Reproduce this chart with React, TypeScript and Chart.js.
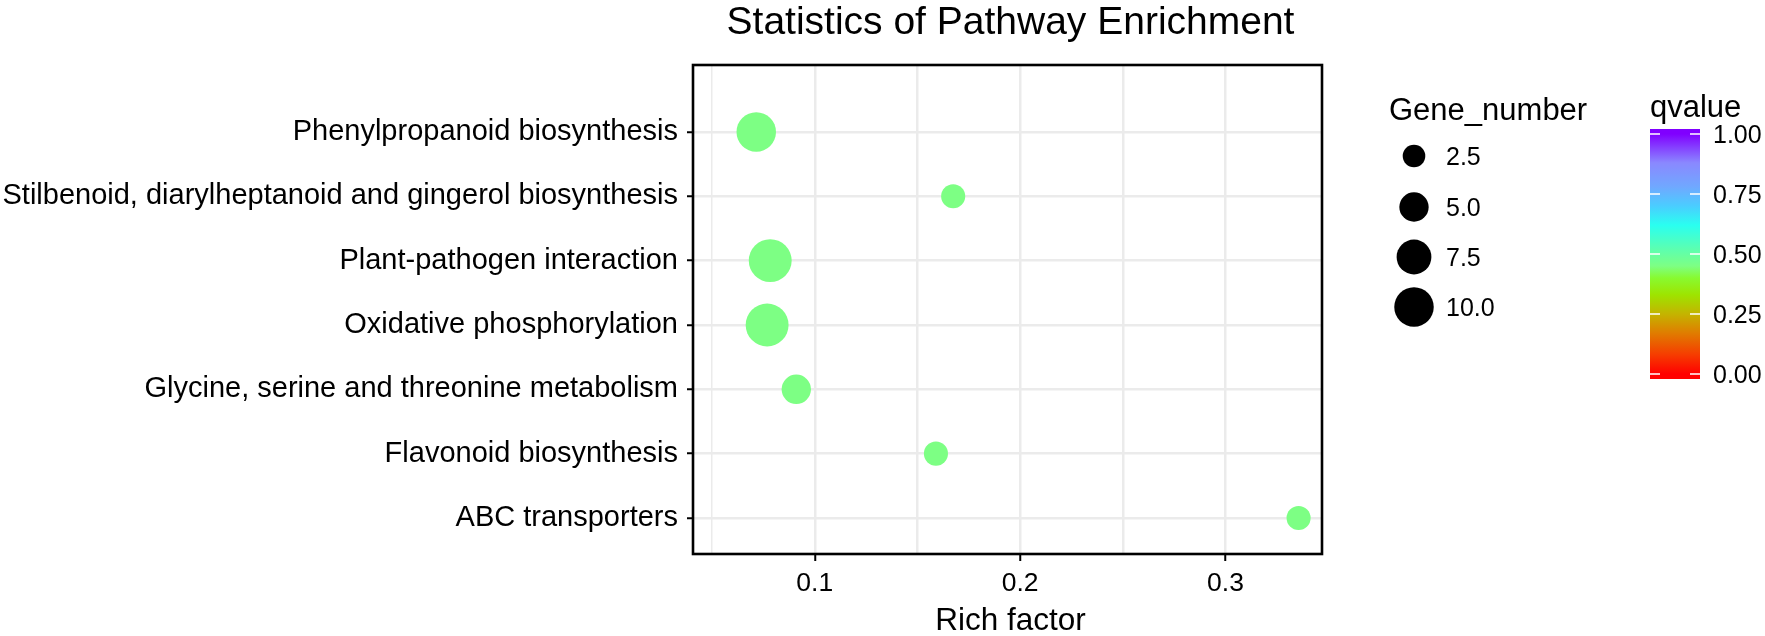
import React, { useEffect, useRef } from 'react';
import { Chart, registerables } from 'chart.js';

Chart.register(...registerables);

// ---------- data ----------
const pathways = [
  'Phenylpropanoid biosynthesis',
  'Stilbenoid, diarylheptanoid and gingerol biosynthesis',
  'Plant-pathogen interaction',
  'Oxidative phosphorylation',
  'Glycine, serine and threonine metabolism',
  'Flavonoid biosynthesis',
  'ABC transporters',
];
const richFactor = [0.0715, 0.1674, 0.0783, 0.0768, 0.091, 0.159, 0.3356];
const geneNumber = [10, 3, 12, 12, 5, 3, 3];
const qvalue = [0.45, 0.45, 0.45, 0.45, 0.45, 0.45, 0.45];

const xGridValues = [0.05, 0.1, 0.15, 0.2, 0.25, 0.3];
const xMajorTicks = [0.1, 0.2, 0.3];
const sizeLegendValues = [2.5, 5.0, 7.5, 10.0];
const colorbarTicks = [1.0, 0.75, 0.5, 0.25, 0.0];

const chartTitle = 'Statistics of Pathway Enrichment';
const xTitle = 'Rich factor';
const sizeLegendTitle = 'Gene_number';
const colorLegendTitle = 'qvalue';

// ---------- styles ----------
const FONT = '"Liberation Sans", Arial, Helvetica, sans-serif';
const GRID = '#EBEBEB';

const colorStops: [number, string][] = [
  [0.0, '#FF0000'],
  [0.08, '#F63C00'],
  [0.17, '#E07C00'],
  [0.25, '#C4B400'],
  [0.33, '#9EE400'],
  [0.4, '#88FA30'],
  [0.45, '#7DFF84'],
  [0.52, '#5CFFB0'],
  [0.62, '#2AFFF0'],
  [0.7, '#4ACDFF'],
  [0.78, '#70A8FF'],
  [0.88, '#8A88FF'],
  [1.0, '#8000FF'],
];

function hexToRgb(h: string) {
  const n = parseInt(h.slice(1), 16);
  return [(n >> 16) & 255, (n >> 8) & 255, n & 255];
}
function qColor(q: number) {
  for (let i = 0; i < colorStops.length - 1; i++) {
    const [a, ca] = colorStops[i];
    const [b, cb] = colorStops[i + 1];
    if (q >= a && q <= b) {
      const t = (q - a) / (b - a);
      const A = hexToRgb(ca);
      const B = hexToRgb(cb);
      const c = A.map((v, k) => Math.round(v + (B[k] - v) * t));
      return `rgb(${c[0]},${c[1]},${c[2]})`;
    }
  }
  return colorStops[colorStops.length - 1][1];
}
function sizeRadius(v: number) {
  return Math.sqrt(40 + 35 * v);
}

const isMajor = (v: number) => xMajorTicks.some((m) => Math.abs(m - v) < 1e-9);

const overlayPlugin = {
  id: 'overlay',
  afterDraw(chart: any) {
    const ctx = chart.ctx as CanvasRenderingContext2D;
    const area = chart.chartArea;
    ctx.save();
    // panel border
    ctx.strokeStyle = '#000';
    ctx.lineWidth = 2.6;
    ctx.strokeRect(area.left, area.top, area.right - area.left, area.bottom - area.top);

    ctx.fillStyle = '#000';
    // title
    ctx.font = `39px ${FONT}`;
    ctx.textAlign = 'center';
    ctx.textBaseline = 'alphabetic';
    ctx.fillText(chartTitle, (area.left + area.right) / 2 + 3, 34);

    // x title
    ctx.font = `31.5px ${FONT}`;
    ctx.fillText(xTitle, (area.left + area.right) / 2 + 3, 630);

    // size legend
    ctx.textAlign = 'left';
    ctx.font = `31px ${FONT}`;
    ctx.fillText(sizeLegendTitle, 1389, 120);
    const ys = [156, 207, 257, 307];
    sizeLegendValues.forEach((v, i) => {
      ctx.beginPath();
      ctx.arc(1414, ys[i], sizeRadius(v), 0, Math.PI * 2);
      ctx.fillStyle = '#000';
      ctx.fill();
      ctx.font = `25px ${FONT}`;
      ctx.textBaseline = 'middle';
      ctx.fillText(v.toFixed(1), 1446, ys[i] + 2);
      ctx.textBaseline = 'alphabetic';
    });

    // colour bar
    ctx.font = `31px ${FONT}`;
    ctx.fillText(colorLegendTitle, 1650, 117);
    const barL = 1650, barR = 1700, barT = 129, barB = 379;
    const q1y = 134, q0y = 374;
    const grad = ctx.createLinearGradient(0, q0y, 0, q1y);
    colorStops.forEach(([s, c]) => grad.addColorStop(s, c));
    ctx.fillStyle = '#FF0000';
    ctx.fillRect(barL, q0y, barR - barL, barB - q0y);
    ctx.fillStyle = '#8000FF';
    ctx.fillRect(barL, barT, barR - barL, q1y - barT);
    ctx.fillStyle = grad;
    ctx.fillRect(barL, q1y, barR - barL, q0y - q1y);
    ctx.strokeStyle = '#FFFFFF';
    ctx.lineWidth = 1.5;
    ctx.font = `25px ${FONT}`;
    ctx.textBaseline = 'middle';
    colorbarTicks.forEach((q) => {
      const y = q0y + (q1y - q0y) * q;
      ctx.beginPath();
      ctx.moveTo(barL, y);
      ctx.lineTo(barL + 10, y);
      ctx.moveTo(barR - 10, y);
      ctx.lineTo(barR, y);
      ctx.stroke();
      ctx.fillStyle = '#000';
      ctx.fillText(q.toFixed(2), 1713, y + 2);
    });
    ctx.restore();
  },
};

export default function App() {
  const ref = useRef<HTMLCanvasElement>(null);
  useEffect(() => {
    document.body.style.margin = '0';
    const canvas = ref.current!;
    const chart = new Chart(canvas, {
      type: 'bubble',
      data: {
        datasets: [
          {
            data: pathways.map((_, i) => ({ x: richFactor[i], y: i, r: sizeRadius(geneNumber[i]) })),
            backgroundColor: qvalue.map((q) => qColor(q)),
            borderWidth: 0,
            hoverBorderWidth: 0,
          } as any,
        ],
      },
      options: {
        animation: false,
        responsive: false,
        devicePixelRatio: 1,
        layout: { padding: { top: 65, right: 443, bottom: 0, left: 0 } },
        plugins: { legend: { display: false }, tooltip: { enabled: false }, title: { display: false } },
        scales: {
          x: {
            type: 'linear',
            min: 0.0407,
            max: 0.347,
            afterBuildTicks: (s: any) => {
              s.ticks = xGridValues.map((v) => ({ value: v }));
            },
            afterFit: (s: any) => {
              s.height = 82;
            },
            border: { display: false },
            grid: {
              color: GRID,
              lineWidth: (c: any) => (c.tick && Math.abs(c.tick.value - 0.05) < 1e-9 ? 1.5 : 2.5),
              drawTicks: true,
              tickLength: 7,
              tickWidth: 2,
              tickColor: (c: any) => (c.tick && isMajor(c.tick.value) ? '#000' : 'rgba(0,0,0,0)'),
            },
            ticks: {
              autoSkip: false,
              maxRotation: 0,
              padding: 7,
              color: '#000',
              font: { family: FONT, size: 26.5 },
              callback: (v: any) => (isMajor(Number(v)) ? Number(v).toFixed(1) : ''),
            },
          },
          y: {
            type: 'linear',
            reverse: true,
            min: -1.04,
            max: 6.56,
            afterBuildTicks: (s: any) => {
              s.ticks = pathways.map((_, i) => ({ value: i }));
            },
            afterFit: (s: any) => {
              s.width = 693;
            },
            border: { display: false },
            grid: {
              color: GRID,
              lineWidth: 2.5,
              drawTicks: true,
              tickLength: 6,
              tickWidth: 2,
              tickColor: '#000',
            },
            ticks: {
              autoSkip: false,
              padding: 9,
              color: '#000',
              font: { family: FONT, size: 29 },
              callback: (v: any) => pathways[Number(v)] ?? '',
            },
          },
        },
      },
      plugins: [overlayPlugin],
    });
    return () => chart.destroy();
  }, []);
  return (
    <div style={{ width: 1765, height: 636, background: '#fff' }}>
      <canvas ref={ref} width={1765} height={636} style={{ display: 'block' }} />
    </div>
  );
}
